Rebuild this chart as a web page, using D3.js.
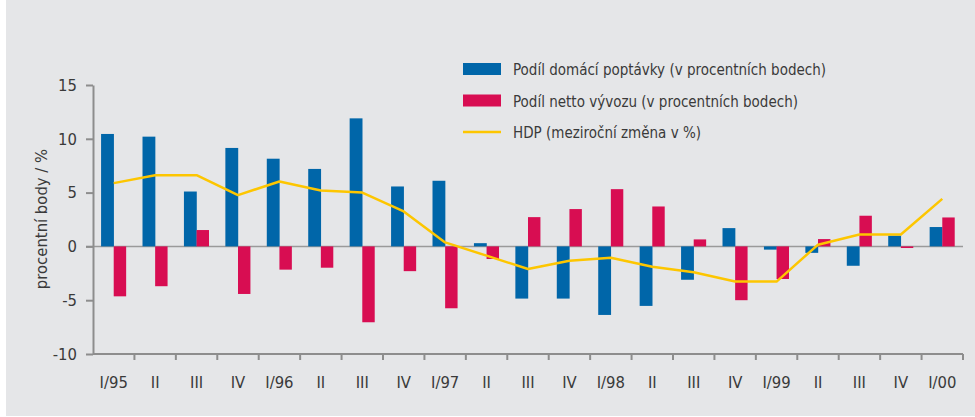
<!DOCTYPE html>
<html>
  <head>
    <meta charset="utf-8">
    <title>HDP příspěvky</title>
    <script type="text/javascript" src="https://cdn.jsdelivr.net/npm/d3@7"></script>
    <style>
      body { margin: 0; background: #fff; }
      text { font-family: "Liberation Sans Narrow", "DejaVu Sans Condensed", sans-serif; fill: #3a3a3a; }
    </style>
  </head>
  <body>
    <script type="text/javascript">
     // quarters
     let quarters = ["I/95", "II", "III", "IV", "I/96", "II", "III", "IV", "I/97", "II", "III", "IV",
                     "I/98", "II", "III", "IV", "I/99", "II", "III", "IV", "I/00"];
     // domestic demand contribution (p.p.)
     let domestic = [10.45, 10.2, 5.1, 9.15, 8.15, 7.2, 11.9, 5.57, 6.1, 0.3, -4.85, -4.85,
                     -6.37, -5.53, -3.1, 1.7, -0.3, -0.6, -1.8, 1.0, 1.8];
     // net exports contribution (p.p.)
     let netExports = [-4.64, -3.7, 1.52, -4.42, -2.16, -1.98, -7.05, -2.3, -5.75, -1.17, 2.72, 3.47,
                       5.32, 3.71, 0.65, -5.0, -3.03, 0.68, 2.85, -0.15, 2.69];
     // GDP y/y change (%)
     let gdp = [5.88, 6.62, 6.62, 4.77, 6.03, 5.2, 5.0, 3.25, 0.37, -0.86, -2.1, -1.33,
                -1.05, -1.9, -2.4, -3.27, -3.27, 0.16, 1.1, 1.1, 4.42];
     let yTicks = [-10, -5, 0, 5, 10, 15];
     let legendLabels = ["Podíl domácí poptávky (v procentních bodech)",
                         "Podíl netto vývozu (v procentních bodech)",
                         "HDP (meziroční změna v %)"];

     let w = 975, h = 417;
     let margin = {top: 85, right: 12, bottom: 63, left: 93};
     let blue = "#0066a9", red = "#d80d52", yellow = "#fdc600", grey = "#8d8d8d";

     let svg = d3.select("body").append("svg")
                 .attr("width", w)
                 .attr("height", h)
                 .style("display", "block");

     // panel background
     svg.append("rect")
        .attr("x", 6).attr("y", 0)
        .attr("width", w - 6).attr("height", 416)
        .attr("fill", "#e5e6e8");

     let xScale = d3.scaleBand()
                    .domain(d3.range(quarters.length))
                    .range([margin.left, w - margin.right]);
     let yScale = d3.scaleLinear()
                    .domain([-10, 15])
                    .range([h - margin.bottom, margin.top]);
     let bw = xScale.bandwidth();

     // zero line
     svg.append("line")
        .attr("x1", margin.left - 7).attr("x2", w - margin.right)
        .attr("y1", yScale(0)).attr("y2", yScale(0))
        .attr("stroke", "#9a9a9a").attr("stroke-width", 1.5);

     // bars
     svg.selectAll("rect.dom")
        .data(domestic)
        .enter()
        .append("rect")
        .attr("class", "dom")
        .attr("x", (d, i) => xScale(i) + bw * 0.195)
        .attr("width", bw * 0.31)
        .attr("y", (d) => yScale(Math.max(0, d)))
        .attr("height", (d) => Math.abs(yScale(d) - yScale(0)))
        .attr("fill", blue);

     svg.selectAll("rect.net")
        .data(netExports)
        .enter()
        .append("rect")
        .attr("class", "net")
        .attr("x", (d, i) => xScale(i) + bw * 0.5)
        .attr("width", bw * 0.3)
        .attr("y", (d) => yScale(Math.max(0, d)))
        .attr("height", (d) => Math.abs(yScale(d) - yScale(0)))
        .attr("fill", red);

     // GDP line
     let line = d3.line()
                  .x((d, i) => xScale(i) + bw / 2)
                  .y((d) => yScale(d));
     svg.append("path")
        .datum(gdp)
        .attr("d", line)
        .attr("fill", "none")
        .attr("stroke", yellow)
        .attr("stroke-width", 2.5)
        .attr("stroke-linejoin", "round");

     // axes
     let yAxis = d3.axisLeft(yScale)
                   .tickValues(yTicks)
                   .tickSize(7)
                   .tickSizeOuter(0)
                   .tickPadding(9)
                   .tickFormat((d) => String(d));           // plain hyphen like the original
     let gy = svg.append("g")
                 .attr("transform", "translate(" + margin.left + ", 0)")
                 .call(yAxis);

     let xAxis = d3.axisBottom(xScale)
                   .tickSize(0)
                   .tickPadding(22)
                   .tickFormat((i) => quarters[i]);
     let gx = svg.append("g")
                 .attr("transform", "translate(0, " + (h - margin.bottom) + ")")
                 .call(xAxis);

     // x ticks sit on band boundaries
     gx.selectAll(".boundary")
       .data(d3.range(1, quarters.length + 1))
       .enter()
       .append("line")
       .attr("x1", (i) => margin.left + i * bw)
       .attr("x2", (i) => margin.left + i * bw)
       .attr("y1", 0).attr("y2", 6)
       .attr("stroke", grey).attr("stroke-width", 2);

     [gx, gy].forEach((g) => {
       g.select(".domain").attr("stroke", grey).attr("stroke-width", 2);
       g.selectAll(".tick line").attr("stroke", grey).attr("stroke-width", 2);
       g.selectAll(".tick text")
        .attr("font-family", null)
        .style("font-size", "16.5px")
        .attr("fill", "#3a3a3a");
     });
     gx.select(".domain").attr("d", "M" + margin.left + ",0H" + (w - margin.right));

     // y axis title
     svg.append("text")
        .attr("transform", "translate(47, 219) rotate(-90)")
        .attr("text-anchor", "middle")
        .style("font-size", "16.5px")
        .text("procentní body / %");

     // legend
     let lg = svg.append("g").attr("transform", "translate(463, 69)");
     let rows = lg.selectAll("g")
                  .data(legendLabels)
                  .enter()
                  .append("g")
                  .attr("transform", (d, i) => "translate(0, " + (i * 31.5) + ")");
     rows.filter((d, i) => i < 2)
         .append("rect")
         .attr("x", 0).attr("y", -6)
         .attr("width", 38).attr("height", 12)
         .attr("fill", (d, i) => i == 0 ? blue : red);
     rows.filter((d, i) => i == 2)
         .append("line")
         .attr("x1", 0).attr("x2", 38)
         .attr("y1", 0).attr("y2", 0)
         .attr("stroke", yellow).attr("stroke-width", 2.5);
     rows.append("text")
         .attr("x", 50)
         .attr("y", 6)
         .style("font-size", "15px")
         .text((d) => d);
    </script>
  </body>
</html>
